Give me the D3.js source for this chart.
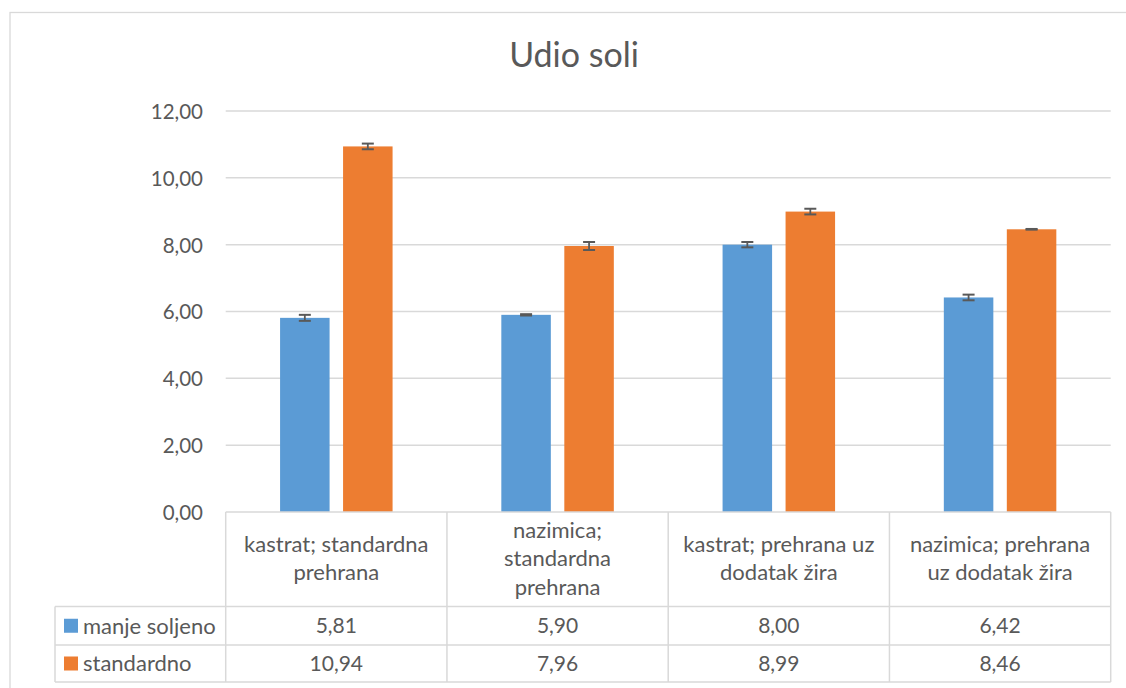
<!DOCTYPE html>
<html>
<head>
<meta charset="utf-8">
<script src="https://cdn.jsdelivr.net/npm/d3@7"></script>
<style>
  html, body { margin: 0; padding: 0; background: #fff; }
  svg { display: block; }
  text { font-family: Lato, "Open Sans", sans-serif; fill: #595959; }
</style>
</head>
<body>
<svg id="chart" width="1126" height="688"></svg>
<script>
const title = "Udio soli";
const categories = [
  "kastrat; standardna\nprehrana",
  "nazimica;\nstandardna\nprehrana",
  "kastrat; prehrana uz\ndodatak žira",
  "nazimica; prehrana\nuz dodatak žira"
];
const seriesNames = ["manje soljeno", "standardno"];
const manjeSoljeno = [5.81, 5.90, 8.00, 6.42];
const standardno = [10.94, 7.96, 8.99, 8.46];
const errManje = [0.09, 0.02, 0.08, 0.085];
const errStandardno = [0.085, 0.12, 0.085, 0.01];
const yTicks = [0, 2, 4, 6, 8, 10, 12];
const colors = ["#5B9BD5", "#ED7D31"];

const seriesValues = [manjeSoljeno, standardno];
const seriesErr = [errManje, errStandardno];

const svg = d3.select("#chart");
const fmt = v => d3.format(".2f")(v).replace(".", ",");

// chart border
svg.append("rect").attr("x", 10).attr("y", 12.5).attr("width", 1130).attr("height", 700)
  .attr("fill", "#fff").attr("stroke", "#d9d9d9").attr("stroke-width", 1.3);

const plotLeft = 225.7, plotRight = 1110.7, plotTop = 111, plotBottom = 512;
const y = d3.scaleLinear().domain([0, 12]).range([plotBottom, plotTop]);
const x0 = d3.scaleBand().domain(d3.range(categories.length)).range([plotLeft, plotRight]).padding(0);
const cw = x0.bandwidth();
const inner = 112.5;
const x1 = d3.scaleBand().domain(d3.range(seriesNames.length))
  .range([(cw - inner) / 2, (cw + inner) / 2]).paddingInner(0.214).paddingOuter(0);

// title
svg.append("text").attr("x", 574).attr("y", 67).attr("text-anchor", "middle")
  .style("font-size", "34px").text(title);

// gridlines
svg.append("g").selectAll("line").data(yTicks.filter(d => d > 0)).join("line")
  .attr("x1", plotLeft).attr("x2", plotRight)
  .attr("y1", d => y(d)).attr("y2", d => y(d))
  .attr("stroke", "#d9d9d9").attr("stroke-width", 1.5);

// y axis labels
const yAxis = d3.axisLeft(y).tickValues(yTicks).tickFormat(fmt).tickSize(0).tickPadding(0);
const gy = svg.append("g").attr("transform", `translate(203,0)`).call(yAxis);
gy.select(".domain").remove();
gy.selectAll("text").style("font-size", "20.5px").attr("fill", "#595959")
  .style("font-family", "Lato, sans-serif").attr("dy", "0.36em");

// bars
const groups = svg.append("g").selectAll("g").data(categories.map((c, i) => i)).join("g")
  .attr("transform", i => `translate(${x0(i)},0)`);

groups.selectAll("rect").data(i => seriesValues.map((s, k) => ({k, v: s[i], e: seriesErr[k][i]}))).join("rect")
  .attr("x", d => x1(d.k)).attr("width", x1.bandwidth())
  .attr("y", d => y(d.v)).attr("height", d => y(0) - y(d.v))
  .attr("fill", d => colors[d.k]);

// error bars
const eb = groups.selectAll("g.err").data(i => seriesValues.map((s, k) => ({k, v: s[i], e: seriesErr[k][i]}))).join("g").attr("class", "err");
eb.append("line")
  .attr("x1", d => x1(d.k) + x1.bandwidth() / 2).attr("x2", d => x1(d.k) + x1.bandwidth() / 2)
  .attr("y1", d => y(d.v + d.e)).attr("y2", d => y(d.v - d.e))
  .attr("stroke", "#595959").attr("stroke-width", 1.8);
eb.selectAll("line.cap").data(d => [ {d, s: 1}, {d, s: -1} ]).join("line").attr("class", "cap")
  .attr("x1", c => x1(c.d.k) + x1.bandwidth() / 2 - 6).attr("x2", c => x1(c.d.k) + x1.bandwidth() / 2 + 6)
  .attr("y1", c => y(c.d.v + c.s * c.d.e)).attr("y2", c => y(c.d.v + c.s * c.d.e))
  .attr("stroke", "#595959").attr("stroke-width", 2);

// data table
const tableLeft = 55, headTop = 512, row1 = 606.5, row2 = 645, tableBottom = 682;
const tg = svg.append("g");
const stroke = "#d9d9d9";
function hline(x1_, x2_, yy) {
  tg.append("line").attr("x1", x1_).attr("x2", x2_).attr("y1", yy).attr("y2", yy)
    .attr("stroke", stroke).attr("stroke-width", 1.5);
}
function vline(xx, y1_, y2_) {
  tg.append("line").attr("x1", xx).attr("x2", xx).attr("y1", y1_).attr("y2", y2_)
    .attr("stroke", stroke).attr("stroke-width", 1.5);
}
hline(plotLeft, plotRight, headTop);
hline(tableLeft, plotRight, row1);
hline(tableLeft, plotRight, row2);
hline(tableLeft, plotRight, tableBottom);
vline(tableLeft, row1, tableBottom);
categories.forEach((c, i) => vline(x0(i), headTop, tableBottom));
vline(plotRight, headTop, tableBottom);

// header labels
const lineH = 28.5;
categories.forEach((c, i) => {
  const lines = c.split("\n");
  const cy = (headTop + row1) / 2 - 1;
  const t = tg.append("text").attr("text-anchor", "middle").style("font-size", "22px");
  lines.forEach((ln, j) => {
    t.append("tspan").attr("x", x0(i) + cw / 2)
      .attr("y", cy + (j - (lines.length - 1) / 2) * lineH).attr("dy", "0.36em").text(ln);
  });
});

// rows
const rowCenters = [(row1 + row2) / 2, (row2 + tableBottom) / 2];
seriesNames.forEach((name, k) => {
  const cy = rowCenters[k];
  tg.append("rect").attr("x", 64).attr("y", cy - 7).attr("width", 14).attr("height", 14).attr("fill", colors[k]);
  tg.append("text").attr("x", 83).attr("y", cy).attr("dy", "0.36em").style("font-size", "22px").text(name);
  seriesValues[k].forEach((v, i) => {
    tg.append("text").attr("x", x0(i) + cw / 2).attr("y", cy).attr("dy", "0.36em")
      .attr("text-anchor", "middle").style("font-size", "21px").text(fmt(v));
  });
});
</script>
</body>
</html>
